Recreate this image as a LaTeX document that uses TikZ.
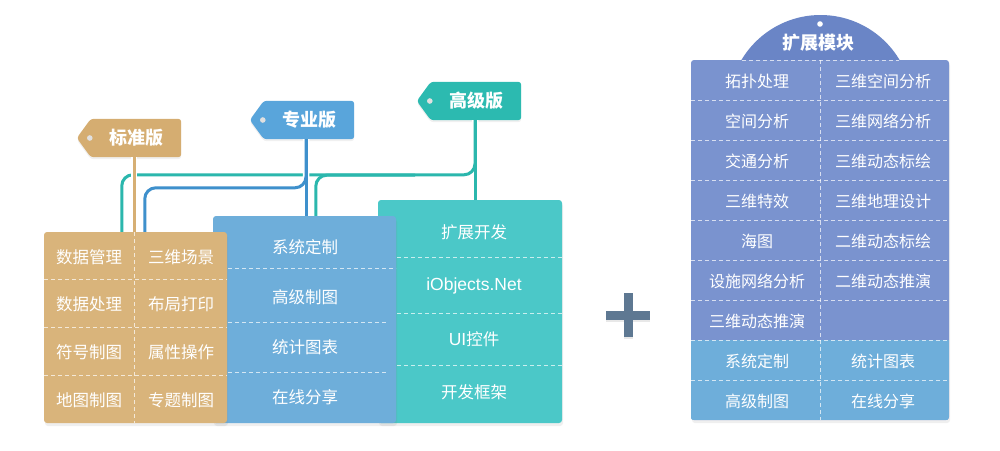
\documentclass[tikz,border=0pt]{standalone}
\usepackage{fontspec}
\setmainfont{Noto Sans CJK SC}
\newfontfamily\latinfont{Liberation Sans}
\usetikzlibrary{calc,shadows,backgrounds}
\definecolor{tanT}{HTML}{D5AD71}
\definecolor{tanB}{HTML}{D9B47B}
\definecolor{tanL}{HTML}{D6AF74}
\definecolor{bluT}{HTML}{59A5DB}
\definecolor{bluB}{HTML}{6EAEDA}
\definecolor{bluL}{HTML}{3E90CC}
\definecolor{tealT}{HTML}{2CBAB0}
\definecolor{tealB}{HTML}{4BC8C8}
\definecolor{tealL}{HTML}{2BB7AD}
\definecolor{modP}{HTML}{7A93CF}
\definecolor{modD}{HTML}{6A85C6}
\definecolor{plusC}{HTML}{5E7892}
\tikzset{
  tagtxt/.style={text=white, font=\fontsize{18}{20}\selectfont\bfseries, minimum width=90pt, minimum height=38pt, inner sep=0pt},
  tagshape/.style={rounded corners=3pt, drop shadow={opacity=0.12, shadow xshift=0pt, shadow yshift=-2pt}},
  tagdot/.style={fill=white!88!black},
  panel/.style={rectangle, rounded corners=3pt, inner sep=0pt, drop shadow={opacity=0.13, shadow xshift=1pt, shadow yshift=-3pt}},
  cell/.style={text=white, font=\fontsize{16.5}{18}\selectfont, inner sep=0pt},
  mcell/.style={text=white, font=\fontsize{16}{18}\selectfont, inner sep=0pt},
  sep/.style={draw=white, draw opacity=0.7, dash pattern=on 4pt off 3pt, line width=0.9pt},
  casing/.style={draw=white, line width=6.5pt, rounded corners=11pt},
  wire/.style={line width=3pt, rounded corners=11pt},
}
\begin{document}
\begin{tikzpicture}[x=1pt,y=-1pt]
\useasboundingbox (0,0) rectangle (1000,450);

% ---- tags ----
\node[tagtxt] (tagStd) at (136,138) {标准版};
\node[tagtxt] (tagPro) at (309,120) {专业版};
\node[tagtxt] (tagAdv) at (476,101) {高级版};
\begin{scope}[on background layer]
  \foreach \t/\c in {tagStd/tanT, tagPro/bluT, tagAdv/tealT} {
    \fill[\c, tagshape] (\t.north east) -- (\t.south east) -- (\t.south west)
      -- ($(\t.west)+(-14,0)$) -- (\t.north west) -- cycle;
    \fill[tagdot] ($(\t.west)+(-1,0)$) circle (2.8pt);
  }
\end{scope}

% ---- panels ----
\node[panel, fill=tealB, minimum width=184pt, minimum height=223pt] (tealbox) at (470,311.5) {};
\node[panel, fill=bluB, minimum width=183pt, minimum height=207pt] (bluebox) at (304.5,319.5) {};
\node[panel, fill=tanB, minimum width=183pt, minimum height=191pt] (tanbox) at (135.5,327.5) {};

% ---- connectors ----
\coordinate (pA) at ($(tagAdv.south)+(-1,0)$);
\coordinate (pB) at ($(tagPro.south)+(-3,0)$);
\coordinate (pS) at ($(tagStd.south)+(-2,0)$);
\coordinate (tHl) at ($(tanbox.north west)+(78,-57)$);
\coordinate (tHe) at ($(tanbox.north west)+(78,0)$);
\coordinate (tC) at ($(bluebox.north west)+(103,0)$);
\coordinate (tCe) at ($(pA)+(-60,55)$);
\coordinate (bHl) at ($(tanbox.north west)+(101,-44)$);
\coordinate (bHe) at ($(tanbox.north west)+(101,0)$);
% teal
\draw[casing] (pA) -- (pA |- tealbox.north);
\draw[casing] (pA) |- (tHl) -- (tHe);
\draw[casing] (tC) |- (tCe);
\draw[wire, draw=tealL] (pA) -- (pA |- tealbox.north);
\draw[wire, draw=tealL] (pA) |- (tHl) -- (tHe);
\draw[wire, draw=tealL] (tC) |- (tCe);
% blue
\draw[casing] (pB) -- (pB |- bluebox.north);
\draw[casing] (pB) |- (bHl) -- (bHe);
\draw[wire, draw=bluL] (pB) -- (pB |- bluebox.north);
\draw[wire, draw=bluL] (pB) |- (bHl) -- (bHe);
% tan
\draw[casing] (pS) -- (pS |- tanbox.north);
\draw[wire, draw=tanL] (pS) -- (pS |- tanbox.north);

% ---- panel dividers ----
\draw[sep] (397,257) -- (562,257);
\draw[sep] (397,313) -- (562,313);
\draw[sep] (397,365) -- (562,365);
\draw[sep] (228,268) -- (396,268);
\draw[sep] (228,322) -- (388,322);
\draw[sep] (228,372) -- (388,372);
\foreach \y in {279,327,375} \draw[sep] (44,\y) -- (227,\y);
\draw[sep] (134,232) -- (134,423);

% ---- panel texts ----
\node[cell] (a1) at (89,257) {数据管理};
\node[cell] (a2) at (89,304) {数据处理};
\node[cell] (a3) at (89,352) {符号制图};
\node[cell] (a4) at (89,400) {地图制图};
\node[cell] (b1) at (181,257) {三维场景};
\node[cell] (b2) at (181,304) {布局打印};
\node[cell] (b3) at (181,352) {属性操作};
\node[cell] (b4) at (181,400) {专题制图};
\node[cell] (c1) at (305,247) {系统定制};
\node[cell] (c2) at (305,297) {高级制图};
\node[cell] (c3) at (305,347) {统计图表};
\node[cell] (c4) at (305,397) {在线分享};
\node[cell] (d1) at (474,232) {扩展开发};
\node[cell] (d2) at (474,286) {{\latinfont\fontsize{17.5}{18}\selectfont iObjects.Net}};
\node[cell] (d3) at (474,339) {{\latinfont\fontsize{17.5}{18}\selectfont UI}控件};
\node[cell] (d4) at (474,392) {开发框架};

% ---- plus ----
\fill[plusC, drop shadow={opacity=0.18, shadow xshift=0pt, shadow yshift=-2pt}] (606,311) rectangle (650,320);
\fill[plusC, drop shadow={opacity=0.18, shadow xshift=0pt, shadow yshift=-2pt}] (624,293) rectangle (632.5,337);
\fill[plusC] (606,311) rectangle (650,320);

% ---- extension module ----
\begin{scope}
  \clip (700,0) rectangle (940,60);
  \fill[modD] (820.5,107) circle (92pt);
\end{scope}
\node[panel, fill=modP, minimum width=258pt, minimum height=360pt] (modbox) at (820,240) {};
\begin{scope}
  \clip[rounded corners=3pt] (modbox.north west) rectangle (modbox.south east);
  \fill[bluB] (691,340) rectangle (949,420);
\end{scope}
\fill[white] (820,24) circle (2.8pt);
\node[text=white, font=\fontsize{18}{20}\selectfont\bfseries, inner sep=0pt] (modtitle) at (818,43) {扩展模块};
\draw[sep] (742,60) -- (899,60);
\foreach \y in {100,140,...,380} \draw[sep] (691,\y) -- (949,\y);
\draw[sep] (820.5,60) -- (820.5,420);

\node[mcell] (m11) at (757,81) {拓扑处理};
\node[mcell] (m12) at (883,81) {三维空间分析};
\node[mcell] (m21) at (757,121) {空间分析};
\node[mcell] (m22) at (883,121) {三维网络分析};
\node[mcell] (m31) at (757,161) {交通分析};
\node[mcell] (m32) at (883,161) {三维动态标绘};
\node[mcell] (m41) at (757,201) {三维特效};
\node[mcell] (m42) at (883,201) {三维地理设计};
\node[mcell] (m51) at (757,241) {海图};
\node[mcell] (m52) at (883,241) {二维动态标绘};
\node[mcell] (m61) at (757,281) {设施网络分析};
\node[mcell] (m62) at (883,281) {二维动态推演};
\node[mcell] (m71) at (757,321) {三维动态推演};
\node[mcell] (m81) at (757,361) {系统定制};
\node[mcell] (m82) at (883,361) {统计图表};
\node[mcell] (m91) at (757,401) {高级制图};
\node[mcell] (m92) at (883,401) {在线分享};
\end{tikzpicture}
\end{document}
